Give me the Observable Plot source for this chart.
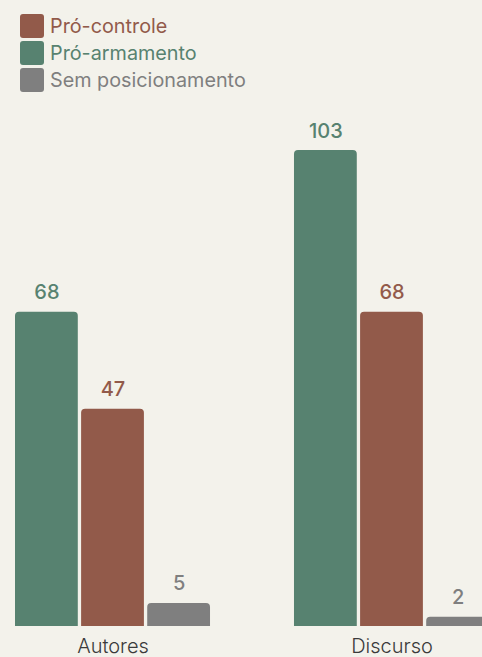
<!DOCTYPE html>
<html>
<head>
<meta charset="utf-8">
<script src="https://cdn.jsdelivr.net/npm/d3@7"></script>
<script src="https://cdn.jsdelivr.net/npm/@observablehq/plot@0.6"></script>
<style>
html, body { margin: 0; padding: 0; background: #f3f2eb; overflow: hidden; }
body { width: 482px; height: 657px; font-family: Inter, "Noto Sans", sans-serif; }
#legend { height: 100px; box-sizing: border-box; padding: 12px 0 0 20px; }
.item { display: flex; align-items: center; height: 27px; font-size: 19.8px; }
.sw { width: 24px; height: 24px; border-radius: 3px; margin-right: 6px; flex: none; }
#chart svg { display: block; overflow: visible; max-width: none !important; }
</style>
</head>
<body>
<div id="legend"></div>
<div id="chart"></div>
<script>
const groups = ["Autores", "Discurso"];
const series = ["Pró-armamento", "Pró-controle", "Sem posicionamento"];
const autores = [68, 47, 5];
const discurso = [103, 68, 2];
const colors = ["#578270", "#925a4a", "#7f7f7f"];
const legendOrder = ["Pró-controle", "Pró-armamento", "Sem posicionamento"];

const data = [];
series.forEach((s, i) => {
  data.push({group: groups[0], series: s, value: autores[i]});
  data.push({group: groups[1], series: s, value: discurso[i]});
});

const legend = document.getElementById("legend");
legendOrder.forEach(s => {
  const c = colors[series.indexOf(s)];
  const row = document.createElement("div");
  row.className = "item";
  row.innerHTML = `<span class="sw" style="background:${c}"></span><span style="color:${c}">${s}</span>`;
  legend.appendChild(row);
});

const chart = Plot.plot({
  width: 490,
  height: 557,
  marginLeft: 15,
  marginRight: 1,
  marginTop: 50,
  marginBottom: 31,
  style: {background: "transparent", fontFamily: "Inter, 'Noto Sans', sans-serif"},
  fx: {domain: groups, paddingInner: 0.301, paddingOuter: 0, round: false, label: null},
  x: {domain: series, paddingInner: 0.05, paddingOuter: 0, round: false, axis: null},
  y: {domain: [0, 103], axis: null},
  color: {domain: series, range: colors},
  marks: [
    Plot.barY(data, {fx: "group", x: "series", y: "value", fill: "series", ry1: 4}),
    Plot.text(data, {fx: "group", x: "series", y: "value", text: d => String(d.value), fill: "series", lineAnchor: "bottom", dy: -13, fontSize: 20, fontWeight: 500}),
    Plot.axisFx({anchor: "bottom", tickSize: 0, tickPadding: 12, fontSize: 20, fontWeight: 300, color: "#3a3a3a", label: null})
  ]
});
document.getElementById("chart").appendChild(chart);
</script>
</body>
</html>
